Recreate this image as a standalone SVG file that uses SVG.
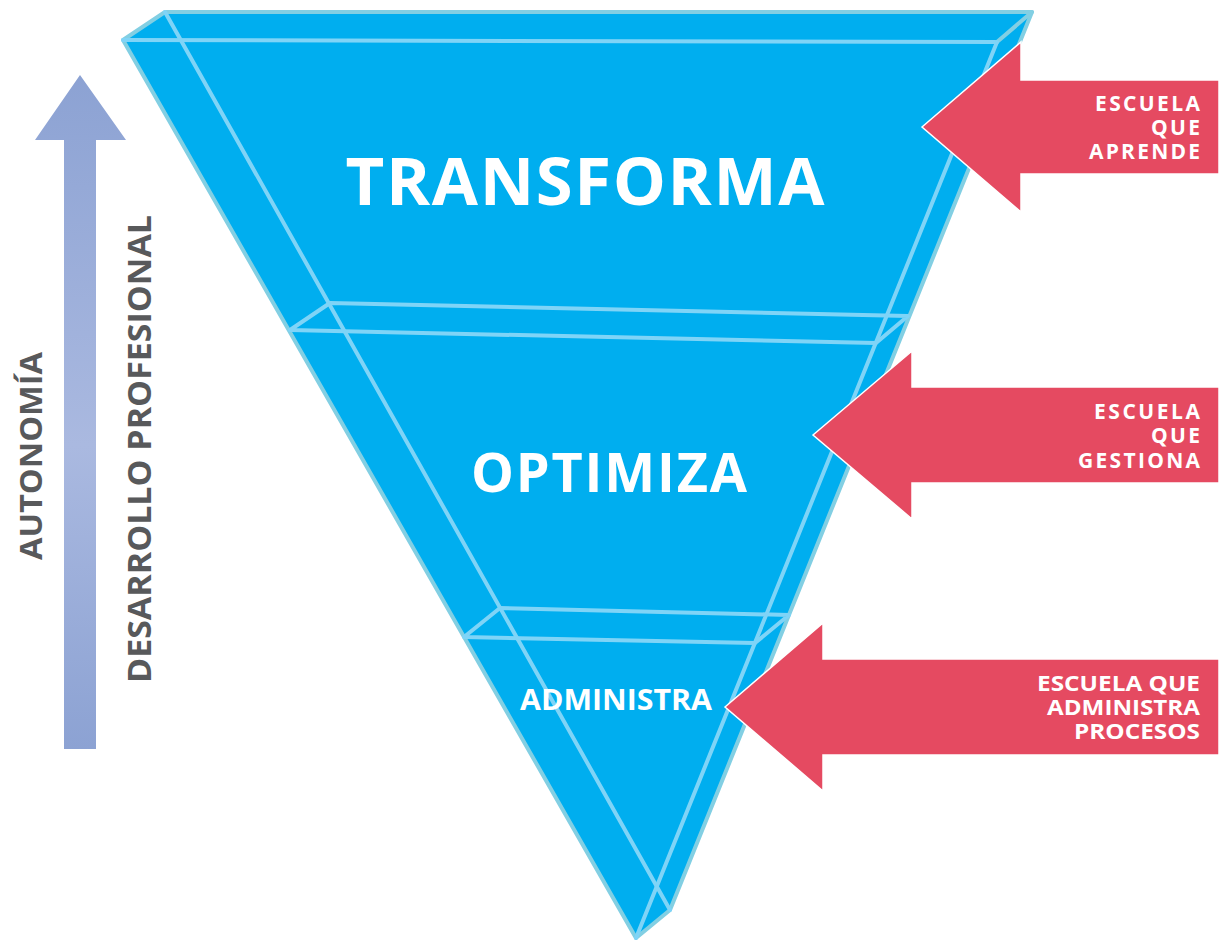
<svg xmlns="http://www.w3.org/2000/svg" width="1220" height="942" viewBox="0 0 1220 942">
  <defs>
    <linearGradient id="upGrad" x1="0" y1="0" x2="0" y2="1">
      <stop offset="0" stop-color="#8CA2D3"/>
      <stop offset="0.55" stop-color="#AAB9E0"/>
      <stop offset="1" stop-color="#8CA2D3"/>
    </linearGradient>
    <style>
      .edge { stroke: #82CFE3; stroke-width: 4; fill: none; stroke-linecap: round; stroke-linejoin: round; }
      .inner { stroke: #7FD4F7; stroke-width: 4; fill: none; stroke-linecap: round; stroke-linejoin: round; }
      .redArrow { fill: #E54A61; stroke: #FFFFFF; stroke-width: 1.5; stroke-linejoin: miter; }
      .big { font-family: "Open Sans", "Liberation Sans", sans-serif; font-weight: 700; fill: #FFFFFF; text-anchor: middle; }
      .tag { font-family: "Open Sans", "Liberation Sans", sans-serif; font-weight: 700; font-size: 21px; fill: #FFFFFF; text-anchor: end; }
      .tag2 { font-family: "Open Sans", "Liberation Sans", sans-serif; font-weight: 700; font-size: 22px; fill: #FFFFFF; text-anchor: end; }
      .side { font-family: "Open Sans", "Liberation Sans", sans-serif; font-weight: 700; fill: #58595B; }
    </style>
  </defs>

  <rect width="1220" height="942" fill="#FFFFFF"/>

  <!-- vertical progress arrow -->
  <g id="progress-arrow">
    <polygon points="80,75 126,140 96,140 96,749 64,749 64,140 35,140" fill="url(#upGrad)"/>
  </g>

  <!-- side labels -->
  <g id="side-labels">
    <text class="side" font-size="31" transform="translate(42,560) rotate(-90)" textLength="208" lengthAdjust="spacingAndGlyphs">AUTONOMÍA</text>
    <text class="side" font-size="32" transform="translate(151,683) rotate(-90)" textLength="468" lengthAdjust="spacingAndGlyphs">DESARROLLO  PROFESIONAL</text>
  </g>

  <!-- inverted prism -->
  <g id="pyramid">
    <polygon points="123,40 165,12 1032,12 670,910 636,938" fill="#00AEEF"/>
    <!-- outer silhouette -->
    <polyline class="edge" points="636,938 123,40 165,12 1032,12 670,910 636,938"/>
    <!-- front face and hidden edges -->
    <line class="inner" x1="123" y1="40" x2="997" y2="42"/>
    <line class="edge" x1="997" y1="42" x2="1032" y2="12"/>
    <line class="inner" x1="165" y1="12" x2="670" y2="910"/>
    <line class="inner" x1="997" y1="42" x2="636" y2="938"/>
  </g>

  <!-- level dividers -->
  <g id="divider-upper">
    <polygon class="inner" points="330,303 908,316 876,343 290,330"/>
  </g>
  <g id="divider-lower">
    <polygon class="inner" points="500,608 789,615 755,643 464,637"/>
  </g>

  <!-- level names -->
  <g id="level-transforma">
    <text class="big" x="585" y="205" font-size="67" textLength="479" lengthAdjust="spacing">TRANSFORMA</text>
  </g>
  <g id="level-optimiza">
    <text class="big" x="609" y="492" font-size="54" textLength="276" lengthAdjust="spacing">OPTIMIZA</text>
  </g>
  <g id="level-administra">
    <text class="big" x="616" y="710" font-size="29" textLength="192" lengthAdjust="spacingAndGlyphs">ADMINISTRA</text>
  </g>

  <!-- pointers -->
  <g id="connectors">
    <g id="arrow-aprende">
      <polygon class="redArrow" points="922,127 1021,42 1021,80 1219,80 1219,174 1021,174 1021,212"/>
      <text class="tag" x="1200" y="111" textLength="105" lengthAdjust="spacing">ESCUELA</text>
      <text class="tag" x="1200" y="135" textLength="49" lengthAdjust="spacing">QUE</text>
      <text class="tag" x="1200" y="159" textLength="111" lengthAdjust="spacing">APRENDE</text>
    </g>
    <g id="arrow-gestiona">
      <polygon class="redArrow" points="813,435 912,351 912,387 1219,387 1219,483 912,483 912,519"/>
      <text class="tag" x="1200" y="419" textLength="106" lengthAdjust="spacing">ESCUELA</text>
      <text class="tag" x="1200" y="443" textLength="49" lengthAdjust="spacing">QUE</text>
      <text class="tag" x="1200" y="468" textLength="122" lengthAdjust="spacing">GESTIONA</text>
    </g>
    <g id="arrow-procesos">
      <polygon class="redArrow" points="725,707 823,623 823,659 1219,659 1219,755 823,755 823,791"/>
      <text class="tag2" x="1200" y="691" textLength="163" lengthAdjust="spacingAndGlyphs">ESCUELA QUE</text>
      <text class="tag2" x="1200" y="715" textLength="153" lengthAdjust="spacingAndGlyphs">ADMINISTRA</text>
      <text class="tag2" x="1200" y="739" textLength="126" lengthAdjust="spacingAndGlyphs">PROCESOS</text>
    </g>
  </g>
</svg>
